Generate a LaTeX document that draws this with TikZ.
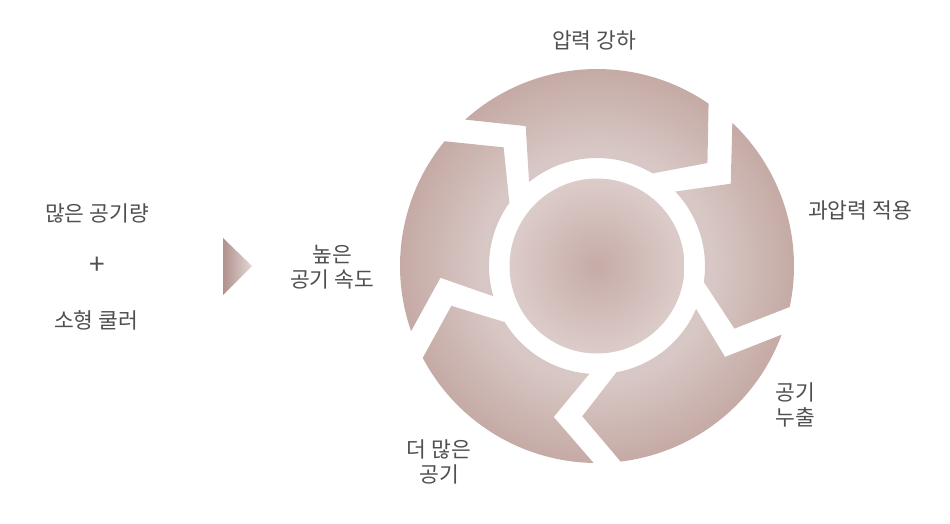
\documentclass[tikz,border=0pt]{standalone}
\usepackage{fontspec}
\setmainfont{Noto Sans CJK KR}
\usepackage{xcolor}
\usepackage{tikz}
\usetikzlibrary{positioning}
\definecolor{ringlight}{HTML}{D8C8C5}
\definecolor{ringdark}{HTML}{C5AAA5}
\definecolor{hubdark}{HTML}{C6ABA7}
\definecolor{hublight}{HTML}{DCCCC9}
\definecolor{tipdark}{HTML}{B0918D}
\definecolor{tiplight}{HTML}{E2D7D5}
\definecolor{inkgray}{HTML}{505050}
\newcommand{\RingOut}{197}
\newcommand{\RingIn}{108}
\pgfdeclareradialshading{ringshade}{\pgfpoint{0bp}{0bp}}{%
  color(0bp)=(ringlight); color(14.5bp)=(ringlight); color(25bp)=(ringdark); color(50bp)=(ringdark)}
\pgfdeclareradialshading{hubshade}{\pgfpoint{0bp}{0bp}}{%
  color(0bp)=(hubdark); color(25bp)=(hublight); color(50bp)=(hublight)}
\tikzset{
  lbl/.style={text=inkgray, align=center, inner sep=0pt, font=\fontsize{21.5}{25}\selectfont},
  hubdisc/.style={shading=hubshade},   % centre disc
  ringfill/.style={shading=ringshade}  % five arrow segments
}

\begin{document}
\begin{tikzpicture}[x=1pt, y=1pt]
  \useasboundingbox (0,0) rectangle (950,523);
  \coordinate (hub) at (597,257);
  % five curved arrows round the hub, notch angle / tip angle
  \begin{scope}[shift={(hub)}]
    \begin{scope}
      \clip \foreach \n/\p in {117/43, 31.6/-24.5, -35.4/-95.6, -106/-164.7, 184.3/128.2}{
        ({\n+15}:\RingOut) -- (\n:157) -- ({\n+12}:\RingIn)
        arc[start angle={\n+12}, end angle={\p+16}, radius=\RingIn]
        -- (\p:151) -- ({\p+12.5}:\RingOut)
        arc[start angle={\p+12.5}, end angle={\n+15}, radius=\RingOut] -- cycle
      };
      \shade[ringfill] (0,0) circle (\RingOut);
    \end{scope}
    \shade[hubdisc] (0,0) circle (87.5);
  \end{scope}
  % labels round the ring
  \node[lbl] (drop) at (594,483) {압력 강하};
  \node[lbl] (over) at (860,313) {과압력 적용};
  \node[lbl] (leak) at (795,118) {공기\\누출};
  \node[lbl] (more) at (439,61) {더 많은\\공기};
  \node[lbl] (speed) at (332,256) {높은\\공기 속도};
  % left column
  \node[lbl] (flow) at (97,310) {많은 공기량};
  \node[lbl, font=\fontsize{28}{30}\selectfont] (plus) at (97,257) {+};
  \node[lbl] (cooler) at (96,203) {소형 쿨러};
  \shade[left color=tipdark, right color=tiplight] (223,285) -- (223,228) -- (252,257) -- cycle;
\end{tikzpicture}
\end{document}
